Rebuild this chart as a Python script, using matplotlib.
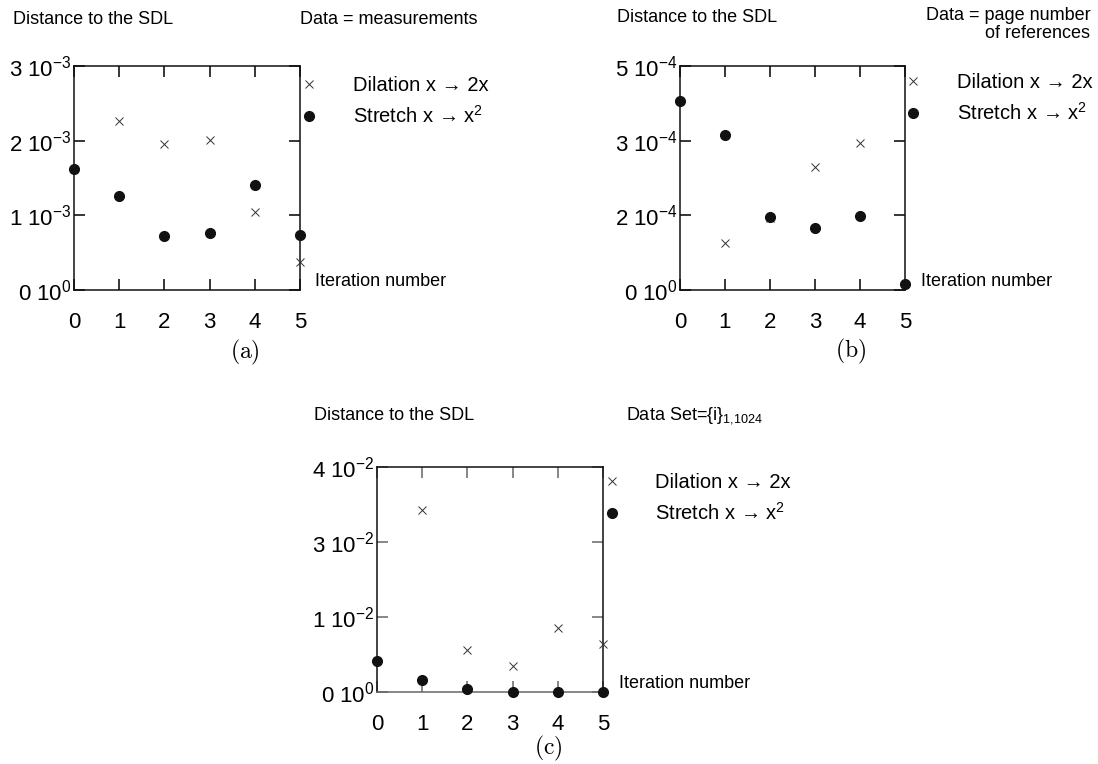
import numpy as np
import matplotlib
matplotlib.use('Agg')
import matplotlib.pyplot as plt
from matplotlib.lines import Line2D

plt.rcParams['font.family'] = ['Liberation Sans', 'DejaVu Sans']
plt.rcParams['mathtext.default'] = 'regular'

W, H = 1098, 764

# Data (values in the units of each panel's top tick)
iters = [0, 1, 2, 3, 4, 5]

a_dil_x = [1, 2, 3, 4, 5]
a_dil_y = [2.27e-3, 1.96e-3, 2.01e-3, 1.04e-3, 0.38e-3]
a_str_x = [0, 1, 2, 3, 4, 5]
a_str_y = [1.62e-3, 1.26e-3, 0.72e-3, 0.77e-3, 1.40e-3, 0.73e-3]
a_ymax = 3e-3
a_ylabels = ['0 10$^{0}$', '1 10$^{-3}$', '2 10$^{-3}$', '3 10$^{-3}$']

b_dil_x = [1, 2, 3, 4]
b_dil_y = [1.06e-4, 1.60e-4, 2.74e-4, 3.28e-4]
b_str_x = [0, 1, 2, 3, 4, 5]
b_str_y = [4.21e-4, 3.45e-4, 1.64e-4, 1.38e-4, 1.65e-4, 0.13e-4]
b_ymax = 5e-4
b_ylabels = ['0 10$^{0}$', '2 10$^{-4}$', '3 10$^{-4}$', '5 10$^{-4}$']

c_dil_x = [1, 2, 3, 4, 5]
c_dil_y = [3.23e-2, 0.74e-2, 0.46e-2, 1.13e-2, 0.85e-2]
c_str_x = [0, 1, 2, 3, 4, 5]
c_str_y = [0.56e-2, 0.21e-2, 0.05e-2, 0.0, 0.0, 0.0]
c_ymax = 4e-2
c_ylabels = ['0 10$^{0}$', '1 10$^{-2}$', '3 10$^{-2}$', '4 10$^{-2}$']

legend_labels = ['Dilation x → 2x', 'Stretch x → x$^{2}$']

fig = plt.figure(figsize=(W / 100, H / 100), dpi=100)


def px_axes(left, top, right, bottom):
    return fig.add_axes([left / W, 1 - bottom / H, (right - left) / W, (bottom - top) / H])


def ftext(x, y, s, **kw):
    kw.setdefault('va', 'center')
    return fig.text(x / W, 1 - y / H, s, **kw)


def panel(ax, dx, dy, sx, sy, ymax, ylabels, tickcol='black', bottomcol='#111111'):
    ax.plot(dx, dy, ls='none', marker='x', ms=5.5, mew=0.7, color='#333333', clip_on=False, zorder=3)
    ax.plot(sx, sy, ls='none', marker='o', ms=7, color='#111111', clip_on=False, zorder=3)
    ax.set_xlim(0, 5)
    ax.set_ylim(0, ymax)
    ax.set_xticks(iters)
    ax.set_xticklabels([str(i) for i in iters])
    ax.set_yticks(np.linspace(0, ymax, 4))
    ax.set_yticklabels(ylabels)
    ax.tick_params(direction='in', top=True, right=True, length=8, width=1.1,
                   color=tickcol, labelsize=16)
    ax.tick_params(axis='x', pad=16)
    ax.tick_params(axis='y', pad=1.5)
    for sp in ax.spines.values():
        sp.set_linewidth(1.1)
        sp.set_color('#111111')
    ax.spines['bottom'].set_color(bottomcol)
    handles = [Line2D([], [], ls='none', marker='x', ms=5.5, mew=0.7, color='#333333'),
               Line2D([], [], ls='none', marker='o', ms=7, color='#111111')]
    return handles


def add_legend(ax, handles, x, y):
    ax.legend(handles, legend_labels, loc='upper left',
              bbox_to_anchor=(x / W, 1 - y / H), bbox_transform=fig.transFigure,
              frameon=False, fontsize=14.5, handlelength=0.85, handletextpad=1.75,
              borderpad=0, borderaxespad=0, labelspacing=0.5)


# (a)
ax_a = px_axes(74, 66, 300, 290)
h = panel(ax_a, a_dil_x, a_dil_y, a_str_x, a_str_y, a_ymax, a_ylabels)
add_legend(ax_a, h, 300.5, 76)
ftext(13, 19, 'Distance to the SDL', fontsize=13)
ftext(300, 19, 'Data = measurements', fontsize=13)
ftext(315, 282, 'Iteration number', fontsize=13)
ftext(245, 352, r'$\mathrm{(a)}$', fontsize=17, ha='center', math_fontfamily='cm')

# (b)
ax_b = px_axes(680, 66, 905, 290)
h = panel(ax_b, b_dil_x, b_dil_y, b_str_x, b_str_y, b_ymax, b_ylabels)
add_legend(ax_b, h, 904.5, 73)
ftext(617, 17, 'Distance to the SDL', fontsize=13)
ftext(1091, 16, 'Data = page number', fontsize=13, ha='right')
ftext(1090, 33, 'of references', fontsize=13, ha='right')
ftext(921, 282, 'Iteration number', fontsize=13)
ftext(851, 351, r'$\mathrm{(b)}$', fontsize=17, ha='center', math_fontfamily='cm')

# (c)
ax_c = px_axes(377, 467, 603, 692)
h = panel(ax_c, c_dil_x, c_dil_y, c_str_x, c_str_y, c_ymax, c_ylabels,
          tickcol='#666666', bottomcol='#666666')
add_legend(ax_c, h, 603, 473)
ftext(314, 416, 'Distance to the SDL', fontsize=13)
ftext(626, 416, 'Data Set={i}$_{1{,}1024}$', fontsize=13)
ftext(619, 683, 'Iteration number', fontsize=13)
ftext(548, 748, r'$\mathrm{(c)}$', fontsize=17, ha='center', math_fontfamily='cm')

fig.savefig('out.png', dpi=100)
